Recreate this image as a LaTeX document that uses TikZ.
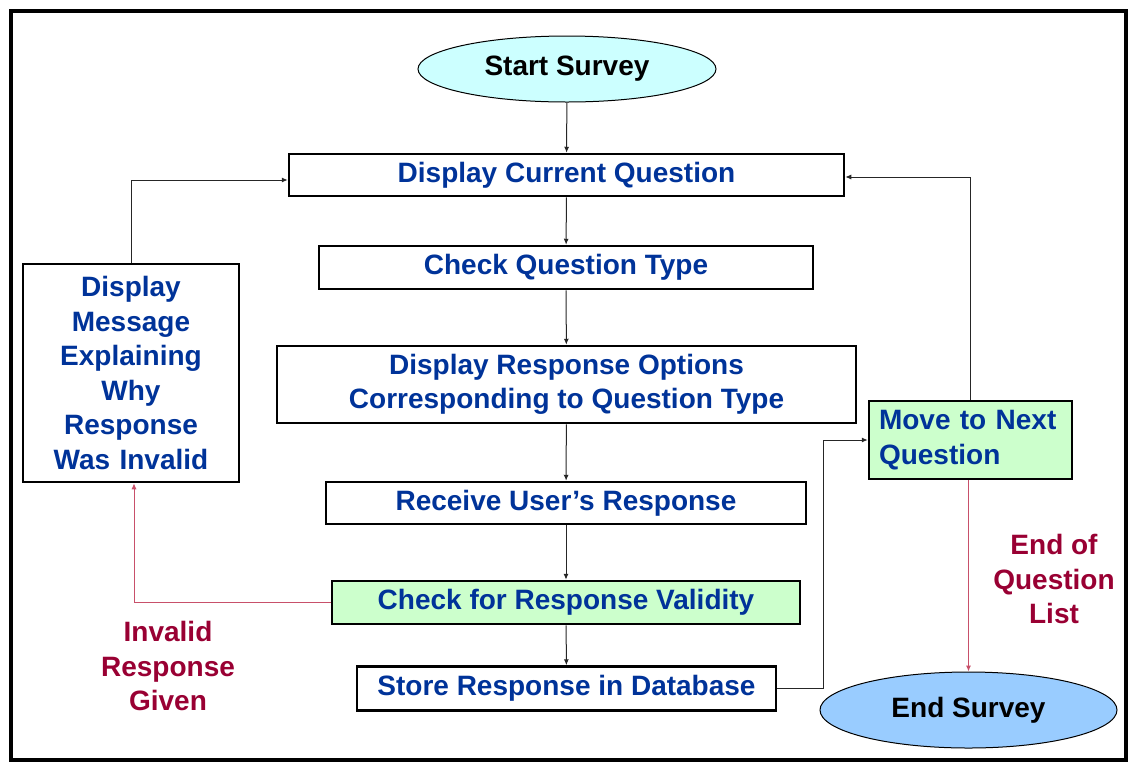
\documentclass[tikz,border=0pt]{standalone}
\usepackage{fontspec}
\setmainfont{Liberation Sans}
\usetikzlibrary{shapes.geometric,arrows.meta}
\definecolor{qblue}{HTML}{003399}
\definecolor{qred}{HTML}{990033}
\definecolor{redline}{HTML}{C8506A}
\definecolor{startfill}{HTML}{CCFFFF}
\definecolor{endfill}{HTML}{99CCFF}
\definecolor{checkfill}{HTML}{CCFFCC}
\begin{document}
\begin{tikzpicture}[x=1pt, y=-1pt,
          font=\fontsize{28}{34.5}\selectfont\bfseries,
          box/.style={draw, line width=2.5pt, align=center, text=qblue, inner sep=0pt},
          greenbox/.style={box, fill=checkfill},
          oval/.style={draw, ellipse, line width=1pt, fill=#1, text=black, inner sep=0pt},
          note/.style={align=center, text=qred},
          link/.style={draw=black!85, line width=1pt, -{Latex[length=6pt,width=5pt]}},
          redlink/.style={link, draw=redline}]
        \useasboundingbox (0,0) rectangle (1130,764);
        \draw[line width=4.5pt] (11,11) rectangle (1126,760);
        \node[oval=startfill, minimum width=298, minimum height=66] (start) at (567,69) {Start Survey};
        \node[box, minimum width=555, minimum height=42] (showq) at (566.5,175) {Display Current Question};
        \node[box, minimum width=494, minimum height=43] (qtype) at (566,267.5) {Check Question Type};
        \node[box, minimum width=579, minimum height=77] (options) at (566.5,384.5) {Display Response Options\\Corresponding to Question Type};
        \node[box, minimum width=480, minimum height=42] (receive) at (566,503) {Receive User’s Response};
        \node[greenbox, minimum width=468, minimum height=43] (valid) at (566,602.5) {Check for Response Validity};
        \node[box, minimum width=419, minimum height=44] (store) at (566.5,688.5) {Store Response in Database};
        \node[box, minimum width=216, minimum height=218, text width=210] (invalid) at (131,373) {Display\\Message\\Explaining\\Why\\Response\\Was Invalid};
        \node[greenbox, minimum width=203, minimum height=78, text width=183, align=left] (next) at (970.5,440) {Move to Next\\Question};
        \node[oval=endfill, minimum width=297, minimum height=76] (finish) at (968.5,710) {End Survey};
        \node[note] (endlist) at (1054,579) {End of\\Question\\List};
        \node[note] (badresp) at (168,666) {Invalid\\Response\\Given};
        % main flow
        \draw[link] (start) -- (showq);
        \draw[link] (showq) -- (qtype);
        \draw[link] (qtype) -- (options);
        \draw[link] (options) -- (receive);
        \draw[link] (receive) -- (valid);
        \draw[link] (valid) -- (store);
        % loops
        \draw[link] (invalid.north) |- ([yshift=-5pt]showq.west);
        \draw[link] (next.north) |- ([yshift=-2pt]showq.east);
        \draw[link] (store.east) -- ([xshift=46pt]store.east) |- (next.west);
        \draw[redlink] (valid.west) -| ([xshift=3pt]invalid.south);
        \draw[redlink] (finish.north |- next.south) -- (finish.north);
      \end{tikzpicture}
\end{document}
